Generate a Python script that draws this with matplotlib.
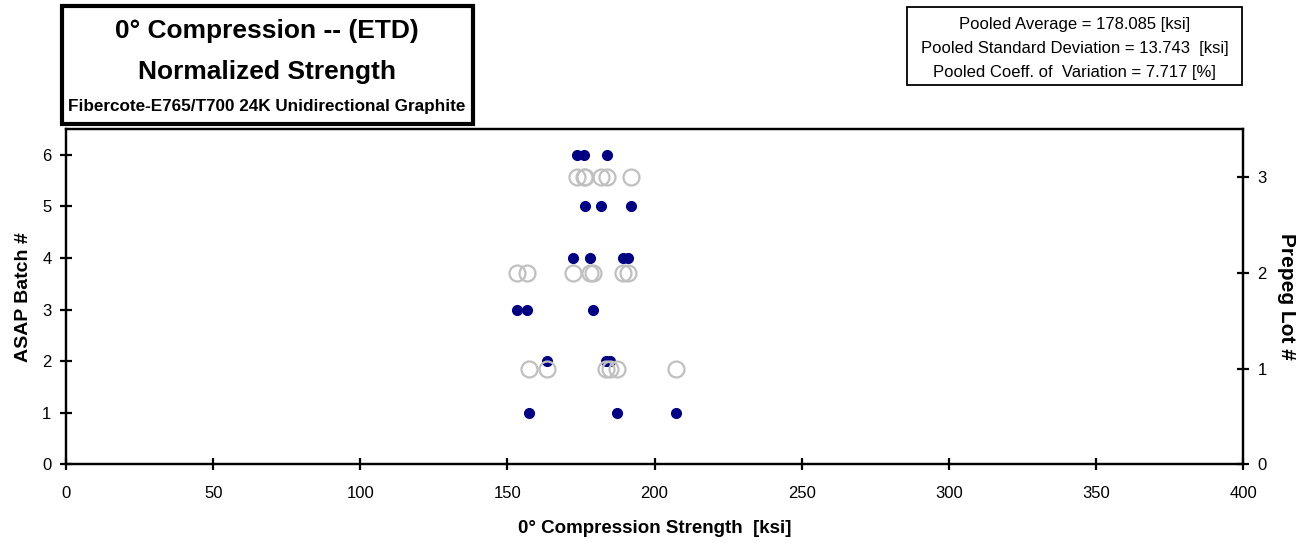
import matplotlib.pyplot as plt
from matplotlib.patches import Rectangle

plt.rcParams['font.family'] = ['Liberation Sans', 'DejaVu Sans']

# strength values [ksi] per ASAP batch
batch = [1, 1, 1, 2, 2, 2, 3, 3, 3, 4, 4, 4, 4, 5, 5, 5, 6, 6, 6]
strength = [157.4, 187.2, 207.4,
            163.6, 183.6, 185.0,
            153.2, 156.7, 179.1,
            172.4, 178.0, 189.4, 191.0,
            176.5, 181.9, 191.9,
            173.8, 176.1, 183.8]
# prepreg lot for each batch
lot_of_batch = {1: 1, 2: 1, 3: 2, 4: 2, 5: 3, 6: 3}
lot = [lot_of_batch[b] for b in batch]

title_lines = ["0\u00b0 Compression -- (ETD)", "Normalized Strength"]
subtitle = "Fibercote-E765/T700 24K Unidirectional Graphite"
stats = ["Pooled Average = 178.085 [ksi]",
         "Pooled Standard Deviation = 13.743  [ksi]",
         "Pooled Coeff. of  Variation = 7.717 [%]"]
x_ticks = [0, 50, 100, 150, 200, 250, 300, 350, 400]

fig = plt.figure(figsize=(13.05, 5.43), dpi=100)
ax = fig.add_axes([0.0506, 0.1446, 0.9019, 0.6178])
ax2 = ax.twinx()

ax.plot(strength, batch, 'o', color='#000080', ms=7, mec='#000080', zorder=3)
ax2.plot(strength, lot, 'o', mfc='none', mec='#C0C0C0', ms=11.5, mew=1.6, zorder=3)

ax.set_xlim(0, 400)
ax.set_ylim(0, 6.5)
ax2.set_ylim(0, 3.5)
ax.set_xticks(x_ticks)
ax.set_yticks(range(7))
ax2.set_yticks(range(4))

for a in (ax, ax2):
    for s in a.spines.values():
        s.set_linewidth(1.6)
    a.tick_params(direction='inout', length=9, width=1.6, labelsize=12)
ax.tick_params(axis='x', pad=11)
ax.tick_params(axis='y', pad=6)
ax2.tick_params(axis='y', pad=6)

ax.set_xlabel("0\u00b0 Compression Strength  [ksi]", fontsize=13.5, fontweight='bold', labelpad=14)
ax.set_ylabel("ASAP Batch #", fontsize=14, fontweight='bold', labelpad=7)
ax2.set_ylabel("Prepeg Lot #", fontsize=15, fontweight='bold', rotation=-90, labelpad=21)

# title box
fig.patches.append(Rectangle((62 / 1305, 1 - 124 / 543), 411 / 1305, 118 / 543,
                             transform=fig.transFigure, fill=False, lw=3, ec='black'))
fig.text(267 / 1305, 1 - 31 / 543, title_lines[0], ha='center', va='center',
         fontsize=19, fontweight='bold')
fig.text(267 / 1305, 1 - 72 / 543, title_lines[1], ha='center', va='center',
         fontsize=19, fontweight='bold')
fig.text(267 / 1305, 1 - 107 / 543, subtitle, ha='center', va='center',
         fontsize=12.3, fontweight='bold')

# stats box
fig.patches.append(Rectangle((907 / 1305, 1 - 85 / 543), 335 / 1305, 78 / 543,
                             transform=fig.transFigure, fill=False, lw=1.3, ec='black'))
for i, line in enumerate(stats):
    fig.text(1074.5 / 1305, 1 - (24 + 24 * i) / 543, line, ha='center', va='center', fontsize=12)

fig.savefig('out.png', dpi=100)
